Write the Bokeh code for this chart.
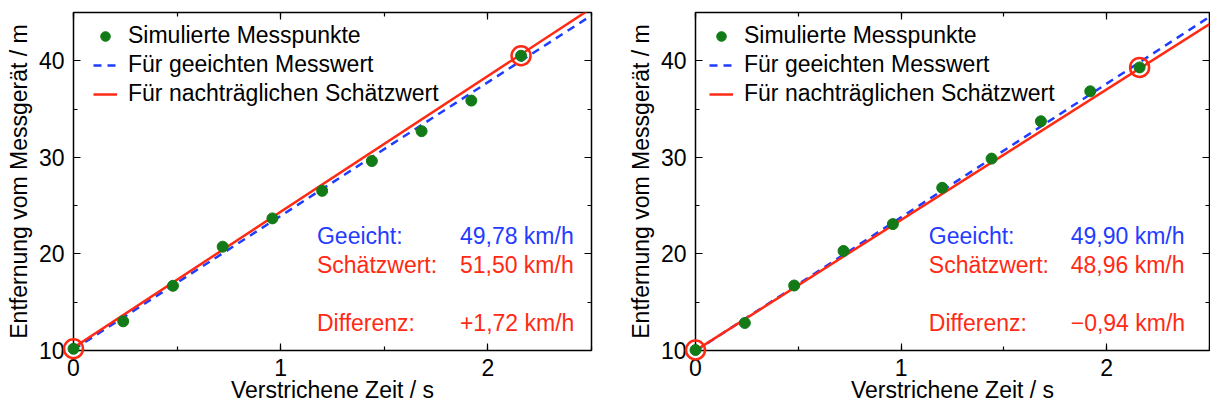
from bokeh.plotting import figure
from bokeh.layouts import row
from bokeh.models import (LinearAxis, SingleIntervalTicker, Range1d, Label, Legend, LegendItem,
                          CustomJSTickFormatter)
from bokeh.embed import file_html
from bokeh.resources import INLINE

# ---- data ----
t_left = [0.0, 0.24, 0.48, 0.72, 0.96, 1.20, 1.44, 1.68, 1.92, 2.16]
d_left = [10.18, 13.02, 16.70, 20.75, 23.68, 26.53, 29.62, 32.71, 35.88, 40.52]
t_right = [0.0, 0.24, 0.48, 0.72, 0.96, 1.20, 1.44, 1.68, 1.92, 2.16]
d_right = [10.05, 12.85, 16.73, 20.31, 23.09, 26.85, 29.87, 33.74, 36.84, 39.31]

line_t = [0.0, 2.5]
blue_left = [10.1, 44.7]
red_left = [10.3, 45.45]
blue_right = [9.95, 44.55]
red_right = [10.0, 43.8]

texts_left = {"geeicht": "49,78 km/h", "schaetz": "51,50 km/h", "diff": "+1,72 km/h"}
texts_right = {"geeicht": "49,90 km/h", "schaetz": "48,96 km/h", "diff": "\u22120,94 km/h"}

legend_labels = ["Simulierte Messpunkte", "Für geeichten Messwert", "Für nachträglichen Schätzwert"]
x_label = "Verstrichene Zeit / s"
y_label = "Entfernung vom Messgerät / m"

FONT = "Liberation Sans"
FS = "23px"
GREEN = "#127a16"
BLUE = "#1f3cff"
RED = "#ff2a14"


def make_plot(t, d, blue, red, texts, width, min_left, min_right, lab_x, val_x, leg_x):
    p = figure(width=width, height=405, output_backend="svg", toolbar_location=None,
               x_range=Range1d(0, 2.5), y_range=Range1d(10, 45),
               min_border_left=min_left, min_border_right=min_right,
               min_border_top=12, min_border_bottom=54,
               x_axis_location=None, y_axis_location=None)
    p.grid.visible = False
    p.background_fill_color = "white"
    p.border_fill_color = "white"
    p.outline_line_color = "black"
    p.outline_line_width = 1.5
    p.outline_line_alpha = 1.0

    def style(ax, labels=True):
        ax.axis_line_color = None
        ax.major_tick_in = 7
        ax.major_tick_out = 0
        ax.minor_tick_in = 4
        ax.minor_tick_out = 0
        ax.major_tick_line_color = "black"
        ax.minor_tick_line_color = "black"
        ax.major_tick_line_width = 1.2
        ax.minor_tick_line_width = 1.2
        ax.major_label_text_font = FONT
        ax.axis_label_text_font = FONT
        ax.axis_label_text_font_style = "normal"
        ax.major_label_text_color = "black"
        ax.axis_label_text_color = "black"
        ax.major_label_text_font_size = FS
        ax.axis_label_text_font_size = FS
        if not labels:
            ax.formatter = CustomJSTickFormatter(code="return ''")
            ax.major_label_standoff = 0

    xb = LinearAxis(ticker=SingleIntervalTicker(interval=1, num_minor_ticks=2), axis_label=x_label)
    style(xb)
    xb.major_label_standoff = 8
    xb.axis_label_standoff = -2
    xb.axis_label_text_line_height = 0.6
    p.add_layout(xb, "below")
    xt = LinearAxis(ticker=SingleIntervalTicker(interval=1, num_minor_ticks=2))
    style(xt, labels=False)
    p.add_layout(xt, "above")
    yl = LinearAxis(ticker=SingleIntervalTicker(interval=10, num_minor_ticks=2), axis_label=y_label)
    style(yl)
    yl.major_label_standoff = 9
    yl.axis_label_standoff = 4
    p.add_layout(yl, "left")
    yr = LinearAxis(ticker=SingleIntervalTicker(interval=10, num_minor_ticks=2))
    style(yr, labels=False)
    p.add_layout(yr, "right")

    pts = p.scatter(t, d, size=11, color=GREEN, line_color=GREEN, level="overlay")
    bl = p.line(line_t, blue, line_color=BLUE, line_width=2.5, line_dash="8 6")
    rl = p.line(line_t, red, line_color=RED, line_width=2.5)
    p.scatter([t[0], t[-1]], [d[0], d[-1]], size=19, fill_color=None,
              line_color=RED, line_width=2.5, level="overlay")

    legend = Legend(items=[LegendItem(label=legend_labels[0], renderers=[pts]),
                           LegendItem(label=legend_labels[1], renderers=[bl]),
                           LegendItem(label=legend_labels[2], renderers=[rl])],
                    location=(leg_x, 243))
    legend.border_line_color = None
    legend.background_fill_alpha = 0
    legend.label_text_font = FONT
    legend.label_text_font_size = FS
    legend.label_text_color = "black"
    legend.glyph_width = 24
    legend.glyph_height = 24
    legend.label_standoff = 11
    legend.spacing = 2
    legend.padding = 0
    legend.margin = 0
    p.add_layout(legend, "center")

    rows = [(21.87, "Geeicht:", texts["geeicht"], BLUE),
            (18.88, "Schätzwert:", texts["schaetz"], RED),
            (12.89, "Differenz:", texts["diff"], RED)]
    for yy, lab, val, col in rows:
        for xx, txt in ((lab_x, lab), (val_x, val)):
            p.add_layout(Label(x=xx, y=yy, text=txt, text_color=col, text_font=FONT,
                               text_font_size=FS, text_baseline="alphabetic", text_align="left"))
    return p


p1 = make_plot(t_left, d_left, blue_left, red_left, texts_left, 622, 73, 31, 1.175, 1.865, 20)
p2 = make_plot(t_right, d_right, blue_right, red_right, texts_right, 588, 73, 1, 1.135, 1.825, 14)

layout = row(p1, p2, spacing=0)
open("out.html", "w").write(file_html(layout, INLINE))
